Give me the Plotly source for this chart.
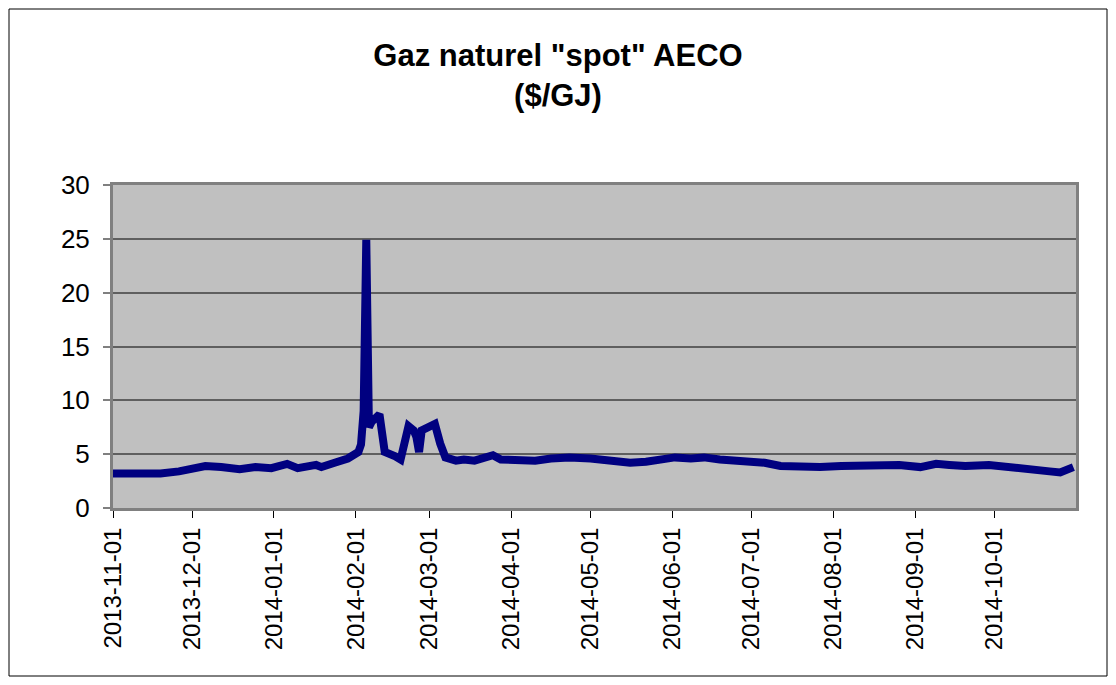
import plotly.graph_objects as go

dates = [
    "2013-11-01", "2013-11-06", "2013-11-11", "2013-11-15", "2013-11-19", "2013-11-26",
    "2013-12-06", "2013-12-12", "2013-12-19", "2013-12-25", "2013-12-31", "2014-01-06",
    "2014-01-10", "2014-01-17", "2014-01-19", "2014-01-24", "2014-01-29", "2014-02-02",
    "2014-02-03", "2014-02-04", "2014-02-05", "2014-02-06", "2014-02-07", "2014-02-10",
    "2014-02-12", "2014-02-16", "2014-02-18", "2014-02-21", "2014-02-23", "2014-02-24",
    "2014-02-25", "2014-02-26", "2014-03-03", "2014-03-05", "2014-03-07", "2014-03-11",
    "2014-03-14", "2014-03-18", "2014-03-22", "2014-03-25", "2014-03-28", "2014-04-04",
    "2014-04-10", "2014-04-16", "2014-04-23", "2014-05-01", "2014-05-06", "2014-05-10",
    "2014-05-16", "2014-05-22", "2014-05-27", "2014-06-02", "2014-06-08", "2014-06-13",
    "2014-06-19", "2014-06-25", "2014-06-30", "2014-07-06", "2014-07-12", "2014-07-19",
    "2014-07-27", "2014-08-04", "2014-08-11", "2014-08-19", "2014-08-26", "2014-09-03",
    "2014-09-09", "2014-09-14", "2014-09-20", "2014-09-29", "2014-10-05", "2014-10-13",
    "2014-10-17", "2014-10-22", "2014-10-26", "2014-10-31",
]
prices = [
    3.2, 3.2, 3.3, 3.3, 3.2, 3.4,
    3.9, 3.8, 3.6, 3.8, 3.7, 4.1,
    3.7, 4.0, 3.8, 4.2, 4.6, 5.2,
    5.9, 9.0, 24.9, 7.5, 8.0, 8.7,
    5.2, 4.8, 4.5, 7.6, 7.2, 6.6,
    5.2, 7.2, 7.8, 6.0, 4.7, 4.4,
    4.5, 4.4, 4.6, 4.9, 4.5, 4.5,
    4.4, 4.6, 4.7, 4.6, 4.5, 4.3,
    4.2, 4.3, 4.5, 4.7, 4.6, 4.7,
    4.5, 4.4, 4.3, 4.2, 3.9, 3.8,
    3.8, 3.9, 3.9, 3.9, 4.0, 3.8,
    4.1, 4.0, 3.9, 4.0, 3.8, 3.6,
    3.5, 3.4, 3.3, 3.8,
]
tick_dates = [
    "2013-11-01", "2013-12-01", "2014-01-01", "2014-02-01", "2014-03-01", "2014-04-01",
    "2014-05-01", "2014-06-01", "2014-07-01", "2014-08-01", "2014-09-01", "2014-10-01",
]
title_text = 'Gaz naturel "spot" AECO<br>($/GJ)'

W, H = 1100, 669
L, T, PW, PH = 105, 177, 963, 323

fig = go.Figure()
fig.add_trace(go.Scatter(
    x=dates, y=prices, mode="lines",
    line=dict(color="#000080", width=8),
    showlegend=False,
))

fig.update_layout(
    width=W, height=H,
    margin=dict(l=L, r=W - L - PW, t=T, b=H - T - PH),
    paper_bgcolor="white",
    plot_bgcolor="#C0C0C0",
    font=dict(family="Liberation Sans, Arial, sans-serif", color="black"),
    title=dict(
        text=title_text, x=0.5, xref="container", xanchor="center",
        y=1 - 58 / H, yref="container", yanchor="top",
        font=dict(size=31, family="Liberation Sans, Arial, sans-serif", color="black", weight="bold"),
    ),
    xaxis=dict(
        type="date",
        range=["2013-11-01", "2014-11-01"],
        tickvals=tick_dates,
        ticktext=tick_dates,
        tickangle=-90,
        tickfont=dict(size=24),
        ticks="outside", ticklen=7, tickcolor="black", tickwidth=1,
        showgrid=False,
        showline=True, linecolor="#808080", linewidth=3, mirror=True,
        zeroline=False,
    ),
    yaxis=dict(
        range=[0, 30], dtick=5,
        tickfont=dict(size=26),
        ticklabelstandoff=8,
        ticks="outside", ticklen=7, tickcolor="#808080", tickwidth=2,
        showgrid=True, gridcolor="#5f5f5f", gridwidth=2,
        showline=True, linecolor="#808080", linewidth=3, mirror=True,
        zeroline=False,
    ),
    shapes=[dict(
        type="rect", xref="paper", yref="paper",
        x0=(1 - L) / PW, x1=(W - 1 - L) / PW,
        y0=(T + PH - (H - 1)) / PH, y1=(T + PH - 1) / PH,
        line=dict(color="black", width=1), fillcolor="rgba(0,0,0,0)",
        layer="below",
    )],
)

fig.write_html("out.html")
